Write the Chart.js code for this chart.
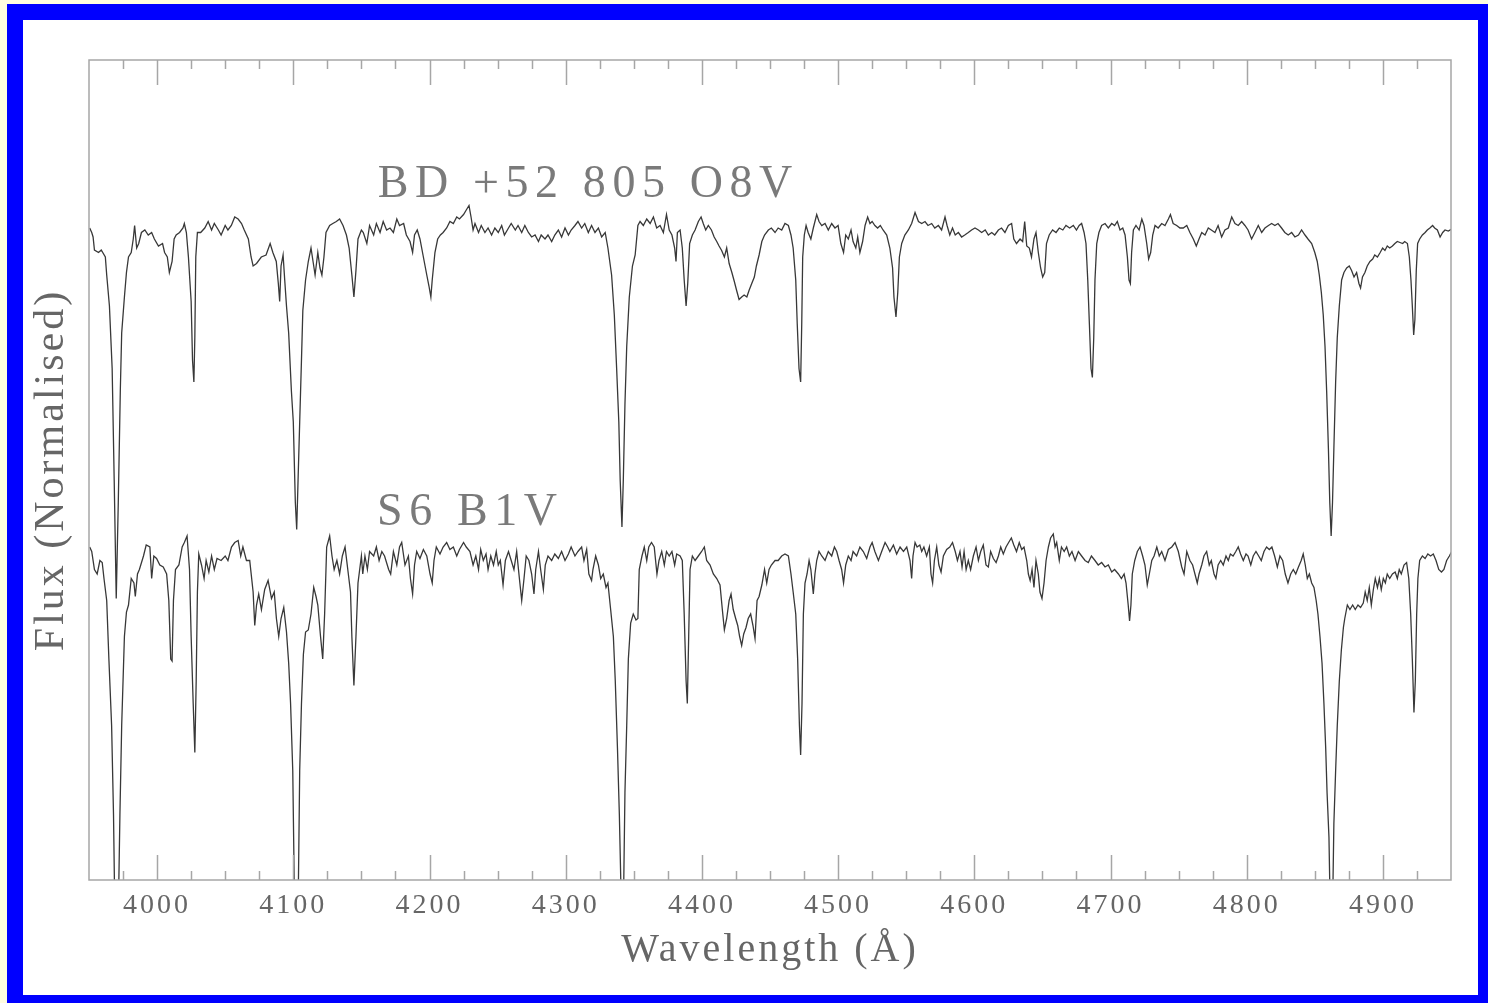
<!DOCTYPE html>
<html>
<head>
<meta charset="utf-8">
<title>BD +52 805 / S6 spectra</title>
<script src="https://cdn.jsdelivr.net/npm/chart.js@4.4.1/dist/chart.umd.min.js"></script>
<style>
    html, body {
        margin: 0;
        padding: 0;
        width: 1488px;
        height: 1003px;
        overflow: hidden;
        background: #fffde0;
    }
    .frame {
        position: absolute;
        left: 7px;
        top: 4px;
        width: 1487px;
        height: 1007px;
        box-sizing: border-box;
        border: 16px solid #0000ff;
        background: #ffffff;
    }
    #spectra {
        position: absolute;
        left: 0;
        top: 0;
    }
</style>
</head>
<body>
<div class="frame"></div>
<canvas id="spectra" width="1488" height="1003"></canvas>
<script>
// Normalised flux, [wavelength (A), flux]
const bdSpectrum = [
    [3950.5,1.004],[3952,0.995],[3953,0.986],[3954,0.96],[3957,0.955],[3959,0.96],[3962,0.946],[3963,0.91],
    [3965,0.848],[3967,0.723],[3968.5,0.5],[3970,0.263],[3971.5,0.455],[3973,0.68],[3974,0.794],[3976,0.866],
    [3977.5,0.915],[3979,0.946],[3981,0.955],[3982.5,0.982],[3983.5,1.009],[3985,0.964],[3986.5,0.973],[3988.5,0.995],
    [3991,1.0],[3993.5,0.99],[3996,0.995],[3998,0.982],[4001,0.968],[4004,0.973],[4005.5,0.955],[4007.5,0.946],
    [4009,0.915],[4011,0.937],[4012.5,0.982],[4014,0.99],[4016.5,0.995],[4019,1.004],[4020,1.013],[4021.5,0.995],
    [4023,0.946],[4025,0.857],[4026,0.74],[4027,0.696],[4027.7,0.785],[4028.4,0.946],[4029.6,0.995],[4032,0.995],
    [4035,1.004],[4037.5,1.017],[4040,1.0],[4042,1.013],[4045,1.0],[4047,0.99],[4050,1.009],[4052,1.0],
    [4054.5,1.009],[4057,1.026],[4059.5,1.022],[4062,1.013],[4064,1.0],[4067,0.982],[4069,0.946],[4070.5,0.928],
    [4073,0.933],[4076.5,0.946],[4080,0.95],[4083,0.973],[4085,0.955],[4087.5,0.937],[4089,0.893],[4090,0.857],
    [4091,0.928],[4092.5,0.95],[4093.7,0.9],[4095,0.848],[4096.6,0.794],[4098.6,0.678],[4100,0.616],[4101.5,0.455],
    [4102.5,0.401],[4103.5,0.5],[4104.7,0.616],[4106,0.74],[4107,0.839],[4109,0.9],[4111,0.937],[4113,0.964],
    [4114.5,0.937],[4116,0.91],[4118,0.955],[4119.6,0.924],[4121,0.91],[4122.5,0.946],[4124,0.995],[4126.7,1.009],
    [4129,1.013],[4131.6,1.017],[4134,1.022],[4136.5,1.009],[4139,0.99],[4141,0.964],[4143,0.91],[4144.5,0.866],
    [4146,0.919],[4147.5,0.982],[4150,1.0],[4151.4,0.995],[4154,0.973],[4156,1.009],[4159,0.99],[4161,1.013],
    [4163.7,0.995],[4166,1.017],[4168.5,1.0],[4171,1.004],[4173.5,0.995],[4176,1.022],[4178,1.009],[4181,1.013],
    [4183,0.99],[4185.7,0.977],[4187.6,0.955],[4189,0.99],[4191,1.0],[4193,0.982],[4195.5,0.946],[4198,0.91],
    [4199.6,0.888],[4201,0.866],[4202,0.9],[4204,0.955],[4206,0.982],[4208,0.99],[4210,0.995],[4212.6,1.004],
    [4215,1.017],[4217.5,1.013],[4220,1.026],[4222,1.022],[4225,1.031],[4227,1.04],[4229,1.049],[4230.5,1.026],
    [4232,1.0],[4233.4,1.013],[4236,0.995],[4238,1.009],[4240.7,0.995],[4243,1.004],[4245.6,0.99],[4248,1.004],
    [4250.5,0.995],[4253,1.009],[4255,0.99],[4258,1.004],[4260,1.013],[4263,1.0],[4265,1.009],[4267.7,0.995],
    [4270,1.009],[4272.6,0.995],[4275,0.986],[4277.5,0.99],[4280,0.977],[4282,0.99],[4284.8,0.982],[4287,0.99],
    [4289.7,0.977],[4292,0.99],[4294.6,1.0],[4297,0.986],[4299.5,1.004],[4302,0.99],[4304,1.0],[4306.8,1.009],
    [4309,1.017],[4311.7,1.004],[4314,1.013],[4316.6,0.995],[4319,1.009],[4321.5,0.995],[4324,1.004],[4326.4,0.986],
    [4329,0.995],[4331,0.964],[4333.7,0.91],[4335.7,0.83],[4337.4,0.723],[4339,0.616],[4340,0.5],[4341.3,0.406],
    [4342.3,0.5],[4343.5,0.651],[4344.8,0.767],[4346.7,0.866],[4349,0.928],[4351,0.95],[4353,1.009],[4354.6,1.017],
    [4357,1.009],[4359.5,1.022],[4362,1.013],[4364.4,1.026],[4366.8,1.004],[4369.3,1.009],[4371.7,0.995],[4374,1.031],
    [4376,1.0],[4378,0.99],[4380,0.964],[4381,0.937],[4382,0.995],[4384,1.0],[4385.6,0.964],[4387,0.9],
    [4388.4,0.848],[4389.6,0.893],[4391,0.973],[4393,0.99],[4395,1.0],[4397.4,1.017],[4399.4,1.026],[4401,1.013],
    [4402.8,1.0],[4404.7,1.009],[4407,1.0],[4409,0.986],[4410.9,0.977],[4412.6,0.968],[4414.5,0.959],[4416.5,0.946],
    [4418.2,0.964],[4420,0.933],[4422,0.915],[4423.8,0.897],[4425.5,0.879],[4427.3,0.861],[4429.2,0.866],[4431,0.87],
    [4433,0.866],[4434.6,0.879],[4436.6,0.893],[4438.5,0.906],[4440,0.928],[4442,0.95],[4444,0.977],[4446,0.99],
    [4448.8,1.0],[4451,1.004],[4453.7,0.995],[4456,1.004],[4458.6,1.0],[4461,1.013],[4463.5,1.009],[4465.4,0.99],
    [4467,0.964],[4468.9,0.9],[4470,0.812],[4471.3,0.723],[4472.5,0.696],[4473.3,0.812],[4474,0.946],[4475.2,0.99],
    [4476.5,1.009],[4478,0.995],[4480,0.982],[4481.8,1.004],[4484.3,1.031],[4486,1.017],[4488,1.009],[4490.4,1.013],
    [4492.8,1.0],[4495.3,1.013],[4497.7,1.004],[4500,1.009],[4502,0.973],[4504,0.955],[4505.6,0.99],[4507.5,0.982],
    [4509.5,1.0],[4511,0.977],[4513,0.964],[4514.4,0.986],[4516,0.955],[4518,0.977],[4519.8,1.009],[4521.7,1.026],
    [4523.4,1.013],[4525,1.017],[4527,1.009],[4529,1.004],[4531,1.009],[4533,1.0],[4535.7,0.99],[4538,0.964],
    [4540,0.924],[4541,0.866],[4542.5,0.826],[4543.8,0.875],[4545,0.946],[4546.7,0.973],[4549,0.99],[4551.6,1.0],
    [4554,1.013],[4556.5,1.035],[4559,1.017],[4561.4,1.013],[4563.8,1.017],[4566,1.009],[4568.7,1.013],[4571,1.004],
    [4573.6,1.009],[4576,1.0],[4578.5,1.026],[4580,1.009],[4582,0.99],[4584,1.004],[4586,0.99],[4588.3,0.995],
    [4590.7,0.986],[4593,0.99],[4595.6,0.995],[4598,1.0],[4600.5,1.004],[4603,1.0],[4605.4,0.995],[4608,1.0],
    [4610.3,0.99],[4612.8,0.995],[4615,0.99],[4617.7,1.0],[4620,1.004],[4622.5,0.995],[4625,1.009],[4627.4,1.013],
    [4629,0.982],[4631,0.973],[4633.6,0.982],[4635.5,0.977],[4637,1.017],[4638.5,0.968],[4640.4,0.964],[4642,0.946],
    [4643.8,0.982],[4645.3,0.995],[4647,0.955],[4648.7,0.924],[4650.2,0.906],[4651.7,0.915],[4653,0.973],[4655,0.99],
    [4657.5,1.0],[4660,0.995],[4662.4,1.004],[4665,1.0],[4667.3,1.009],[4670,1.004],[4672.7,1.009],[4675,1.0],
    [4677,1.009],[4678.8,1.013],[4680.6,0.995],[4682,0.973],[4683.3,0.9],[4684.5,0.812],[4685.7,0.723],[4686.7,0.705],
    [4687.7,0.785],[4688.6,0.9],[4689.9,0.973],[4691.5,0.995],[4693.5,1.009],[4696,1.013],[4698.4,1.004],[4700.9,1.013],
    [4703,1.009],[4705,1.017],[4707,1.0],[4709,1.004],[4710.7,0.99],[4712.4,0.946],[4713.6,0.9],[4714.6,0.893],
    [4715.5,0.955],[4716.8,1.0],[4718.7,1.009],[4721,1.0],[4723,1.022],[4724.6,1.009],[4726.6,0.973],[4728,0.942],
    [4729.5,0.955],[4731,0.99],[4732.7,1.009],[4735,1.004],[4737.6,1.013],[4740,1.009],[4742.5,1.022],[4744,1.031],
    [4746,1.013],[4748.6,1.009],[4751,1.004],[4753.4,1.004],[4756,1.009],[4758.3,0.995],[4760.8,0.982],[4763,0.968],
    [4765,0.982],[4767,0.995],[4769.4,0.99],[4771.8,1.004],[4774,1.0],[4776.7,0.995],[4779,1.009],[4781.6,0.986],
    [4784,1.0],[4786.5,1.004],[4789,1.026],[4791.4,1.013],[4793.8,1.009],[4796.3,1.017],[4798.7,1.009],[4801,1.0],
    [4803.6,0.982],[4806,0.995],[4808.5,1.009],[4811,0.995],[4813.4,1.004],[4816,1.009],[4818.3,1.013],[4820.7,1.009],
    [4823,1.013],[4825.6,1.004],[4828,0.995],[4830.5,0.99],[4833,0.995],[4835.4,0.986],[4838,0.99],[4840.3,1.0],
    [4842.8,0.99],[4845,0.982],[4847.7,0.973],[4850,0.955],[4851.8,0.937],[4853.3,0.91],[4854.8,0.875],[4856.2,0.83],
    [4857.5,0.767],[4858.7,0.678],[4860,0.562],[4861,0.455],[4862,0.388],[4863,0.455],[4864,0.562],[4865.3,0.696],
    [4866.5,0.785],[4868,0.848],[4869.7,0.9],[4871.4,0.915],[4873.4,0.924],[4875.3,0.928],[4877,0.919],[4878.8,0.906],
    [4880.7,0.915],[4882.4,0.893],[4883.6,0.884],[4885,0.906],[4886.8,0.915],[4888.5,0.928],[4890.5,0.937],[4892.5,0.942],
    [4894,0.95],[4896,0.946],[4898,0.955],[4899.8,0.964],[4901.5,0.959],[4903.2,0.968],[4905,0.964],[4907,0.968],
    [4908.8,0.973],[4910.6,0.977],[4912.5,0.975],[4914.5,0.973],[4916,0.977],[4918,0.973],[4919.4,0.946],[4920.6,0.9],
    [4921.6,0.848],[4922.6,0.79],[4923.5,0.821],[4924.5,0.919],[4925.5,0.973],[4927,0.982],[4929,0.99],[4931,0.995],
    [4932.6,1.0],[4934.5,1.004],[4936.5,1.009],[4938,1.004],[4940,1.0],[4942,0.986],[4943.9,0.995],[4945.6,1.0],
    [4948,0.998],[4950.5,1.002]
];

const s6Spectrum = [
    [3950.5,1.016],[3952,1.007],[3954,0.971],[3956,0.962],[3958,0.989],[3959.7,0.985],[3961,0.953],[3963,0.909],
    [3964.6,0.792],[3966.6,0.659],[3968,0.48],[3969,0.28],[3971.5,0.28],[3972.7,0.48],[3974,0.659],[3976,0.837],
    [3977.5,0.886],[3979,0.9],[3981,0.953],[3983,0.944],[3984,0.917],[3985.6,0.962],[3987,0.971],[3990,0.998],
    [3992,1.02],[3994.7,1.016],[3996,0.953],[3997.6,0.998],[3999.6,0.993],[4002,0.98],[4004.5,0.976],[4007,0.962],
    [4008.6,0.909],[4010,0.792],[4011,0.788],[4012,0.909],[4013.5,0.971],[4016,0.98],[4018.4,1.016],[4020,1.025],
    [4022,1.038],[4023.8,0.971],[4025,0.837],[4026.5,0.703],[4027.7,0.605],[4028.7,0.748],[4029.6,0.926],[4030.6,1.002],
    [4032.6,0.98],[4034.5,0.953],[4036,0.989],[4038,0.966],[4040,0.998],[4042,0.971],[4044,0.993],[4047,0.989],
    [4050,0.998],[4052,0.989],[4054.6,1.016],[4057,1.025],[4059.5,1.029],[4061.4,0.998],[4063,1.016],[4065.6,0.989],
    [4068,0.989],[4070.5,0.926],[4071.7,0.859],[4073,0.9],[4074.6,0.922],[4076.6,0.891],[4079,0.931],[4081.5,0.949],
    [4084,0.913],[4086,0.926],[4087.6,0.873],[4089.3,0.837],[4091,0.873],[4093,0.895],[4095,0.846],[4096.6,0.784],
    [4098,0.703],[4099.6,0.569],[4101,0.28],[4103.5,0.28],[4104.7,0.569],[4106,0.703],[4107.4,0.801],[4109,0.846],
    [4111,0.85],[4113,0.882],[4115,0.935],[4116.7,0.917],[4118,0.9],[4120,0.837],[4121.6,0.792],[4123,0.882],
    [4124.5,1.016],[4126.7,1.038],[4128.4,0.998],[4130,0.971],[4132,0.989],[4134,0.962],[4136,0.998],[4138,1.016],
    [4140,0.971],[4142,0.926],[4143,0.837],[4144.5,0.739],[4146,0.837],[4147.5,0.944],[4150,0.998],[4151,0.962],
    [4152.6,0.998],[4154.4,0.971],[4156,1.007],[4159,0.998],[4161,1.016],[4163,0.989],[4165,1.007],[4167,0.998],
    [4170,0.971],[4171.5,0.962],[4173.5,1.007],[4176,0.98],[4178,1.016],[4179.6,1.025],[4182,0.98],[4184.5,0.998],
    [4186,0.953],[4187.6,0.922],[4189,0.98],[4190.6,1.007],[4193,0.993],[4195.5,1.011],[4198,0.998],[4200.4,0.962],
    [4202,0.944],[4203.3,0.989],[4205,1.016],[4207.7,1.002],[4210,1.016],[4212.6,1.025],[4215,1.011],[4217.5,1.016],
    [4220,0.998],[4222,1.011],[4225,1.025],[4227,1.016],[4229.7,1.007],[4232,0.98],[4234,0.998],[4236,0.971],
    [4237.6,1.011],[4239.5,0.989],[4241.5,1.002],[4243,0.971],[4245,0.998],[4247,0.98],[4249,1.007],[4250.5,0.98],
    [4252,0.989],[4254,0.94],[4255.7,0.989],[4258,1.007],[4260,0.989],[4262,0.971],[4264,1.007],[4266,0.953],
    [4267.7,0.909],[4269.4,0.953],[4271,0.998],[4273,0.989],[4275,0.962],[4276.7,0.922],[4278,0.971],[4280,1.007],
    [4281.6,0.971],[4283.6,0.931],[4285,0.98],[4287,0.998],[4289.7,0.989],[4292,1.002],[4294.6,0.993],[4297,1.007],
    [4299.5,0.989],[4302,1.002],[4304,1.016],[4306.8,0.998],[4309,1.007],[4311.7,1.016],[4313.4,0.989],[4315.4,1.011],
    [4317,0.962],[4319,0.949],[4320,0.971],[4322,0.998],[4324,0.98],[4325.7,0.953],[4327.6,0.962],[4329.6,0.935],
    [4331,0.944],[4333,0.891],[4335,0.837],[4336.4,0.748],[4338,0.614],[4339.4,0.48],[4341,0.28],[4342.3,0.28],
    [4343.5,0.525],[4344.8,0.659],[4346,0.792],[4347.7,0.864],[4349.6,0.882],[4351.6,0.87],[4353,0.873],[4354,0.971],
    [4356,0.998],[4357.7,1.016],[4359.5,0.989],[4361,1.016],[4363,1.025],[4365,1.016],[4367,0.962],[4368.5,0.989],
    [4370.5,1.007],[4372.4,0.98],[4374,1.007],[4376,0.998],[4378,1.007],[4380,0.98],[4381.5,1.002],[4384,0.998],
    [4385.6,0.989],[4387,0.882],[4388.4,0.748],[4389.3,0.703],[4390.3,0.837],[4391.3,0.971],[4393,0.998],[4395,0.989],
    [4397.4,0.998],[4399.8,1.007],[4401.8,1.016],[4403.5,0.989],[4406,0.98],[4408.4,0.962],[4410.9,0.953],[4413.3,0.94],
    [4415,0.891],[4416.5,0.85],[4418.2,0.873],[4420,0.909],[4421.4,0.922],[4423,0.891],[4424.8,0.873],[4426.3,0.859],
    [4427.7,0.837],[4429.2,0.819],[4430.7,0.842],[4432.4,0.855],[4434,0.873],[4435.8,0.882],[4437.5,0.859],[4439,0.833],
    [4440.5,0.909],[4442,0.917],[4444,0.94],[4446,0.971],[4447.6,0.944],[4449.3,0.971],[4451,0.98],[4453.7,0.989],
    [4456,0.989],[4458.6,0.998],[4461,1.002],[4463.5,0.998],[4465.4,0.962],[4467,0.926],[4468.9,0.882],[4470.3,0.792],
    [4471.6,0.659],[4472.5,0.6],[4473.5,0.703],[4474.5,0.882],[4475.7,0.944],[4477.2,0.962],[4478.7,0.989],[4480,0.971],
    [4481.8,0.922],[4483,0.962],[4484.3,0.989],[4486,1.007],[4488,0.998],[4490.4,0.989],[4492.8,1.007],[4495.3,0.998],
    [4497.3,1.016],[4499,1.007],[4500.7,0.989],[4502.6,0.971],[4504,0.944],[4505.6,0.98],[4507.5,0.998],[4509.5,0.989],
    [4511,1.007],[4513.6,0.998],[4516,1.016],[4518.5,1.007],[4521,0.993],[4523.4,1.016],[4525,1.025],[4527,1.007],
    [4529.6,0.989],[4532,1.007],[4534.5,1.025],[4536.4,1.016],[4538,1.007],[4540.6,1.02],[4543,1.002],[4545.5,1.016],
    [4548,1.007],[4550.4,1.016],[4552.8,0.989],[4554,0.953],[4555,0.998],[4556.5,1.025],[4558,1.016],[4560,1.02],
    [4561.4,1.007],[4563,1.016],[4565,0.998],[4567,1.016],[4568.2,0.962],[4569.4,0.944],[4570.7,0.989],[4572.4,1.016],
    [4574,0.98],[4575.6,0.966],[4577.3,0.998],[4579.7,1.011],[4582,1.016],[4584,1.025],[4586,1.007],[4587.6,0.989],
    [4589.5,1.007],[4591,0.976],[4592.5,1.007],[4594,0.971],[4595.6,0.989],[4597.3,0.971],[4599.3,0.998],[4601.3,1.016],
    [4603,0.989],[4604.7,1.007],[4606.6,1.02],[4608.6,0.98],[4610.3,0.976],[4612,1.007],[4614,0.993],[4616,0.985],
    [4617.7,0.998],[4619.4,1.016],[4621.3,1.002],[4623.3,1.016],[4625.2,1.025],[4627.2,1.034],[4629,1.02],[4631,1.007],
    [4633,1.025],[4634.8,1.011],[4636.5,1.016],[4638.5,0.989],[4639.7,0.962],[4641,0.949],[4642.4,0.971],[4643.8,0.935],
    [4645.3,0.989],[4647,0.962],[4648.2,0.926],[4649.7,0.913],[4651.2,0.944],[4652.7,0.989],[4654.4,1.016],[4656,1.034],
    [4658,1.042],[4659.3,1.016],[4660.5,1.025],[4662.4,0.989],[4664,1.016],[4666,1.007],[4667.8,1.016],[4669.8,0.998],
    [4671.7,1.007],[4674,0.989],[4676.4,1.007],[4678.8,0.998],[4681.3,0.989],[4683.7,0.985],[4686,0.998],[4688.6,0.989],
    [4691,0.98],[4693.5,0.985],[4696,0.976],[4698.4,0.98],[4700.9,0.966],[4703,0.971],[4705.8,0.962],[4708,0.953],
    [4710,0.962],[4711.4,0.944],[4713,0.9],[4714,0.868],[4715,0.9],[4716,0.962],[4717.8,0.989],[4719.7,1.007],
    [4721.7,1.016],[4723.6,0.998],[4725.3,0.98],[4727,0.94],[4728.5,0.962],[4730.3,0.989],[4732,0.998],[4734,1.016],
    [4735.8,0.998],[4737.6,1.007],[4740,0.989],[4742.5,1.011],[4745,1.016],[4747.4,1.025],[4749.8,1.007],[4752.3,0.976],
    [4754,0.962],[4756,1.007],[4758.3,0.989],[4760.3,0.98],[4762,0.962],[4763.7,0.944],[4765,0.962],[4767,0.98],
    [4768.6,0.998],[4770.6,1.007],[4772.5,0.98],[4774,0.989],[4776,0.962],[4777.4,0.953],[4779,0.98],[4780.9,0.989],
    [4782.8,0.98],[4784.8,0.998],[4786.5,0.989],[4788,1.002],[4790,0.998],[4792,1.007],[4793.8,1.016],[4795.5,1.002],
    [4797.5,0.989],[4799.5,1.002],[4801,0.998],[4803,0.98],[4804.8,0.998],[4806.8,1.007],[4808.8,0.998],[4810.7,0.989],
    [4812.7,1.007],[4814.6,1.016],[4816.6,1.011],[4818.5,1.016],[4820.5,0.998],[4822.5,0.976],[4824.4,0.998],[4826.4,0.989],
    [4828.3,0.962],[4830.3,0.944],[4832.3,0.962],[4834.2,0.971],[4836,0.962],[4838,0.976],[4840,0.989],[4841.5,1.002],
    [4843,0.98],[4844.5,0.953],[4846,0.962],[4847.7,0.944],[4849.4,0.935],[4851,0.909],[4852.3,0.882],[4853.8,0.837],
    [4855.3,0.784],[4856.7,0.703],[4858,0.614],[4859,0.525],[4860.4,0.435],[4861.4,0.28],[4863,0.28],[4864,0.462],
    [4865.3,0.569],[4866.5,0.659],[4868,0.748],[4869.5,0.81],[4871,0.855],[4872,0.873],[4873.9,0.9],[4875.8,0.891],
    [4877.8,0.9],[4879.7,0.891],[4881.7,0.9],[4883.6,0.895],[4885.6,0.904],[4887,0.926],[4888.5,0.909],[4890,0.935],
    [4891.5,0.9],[4893,0.931],[4894.4,0.953],[4896,0.935],[4897.4,0.953],[4898.8,0.931],[4900.3,0.953],[4901.8,0.944],
    [4903.2,0.962],[4905,0.953],[4907,0.962],[4909,0.966],[4910.6,0.953],[4912,0.971],[4913.5,0.962],[4915.5,0.98],
    [4917.4,0.985],[4919,0.953],[4920.4,0.882],[4921.6,0.792],[4922.8,0.685],[4923.8,0.748],[4924.8,0.882],[4925.7,0.953],
    [4927,0.989],[4929,0.998],[4931,0.993],[4933,1.002],[4935,0.998],[4937,1.002],[4939,0.989],[4941,0.971],
    [4943,0.966],[4944.8,0.971],[4946.8,0.989],[4948.8,0.998],[4950.5,1.007]
];

const starNames = ['BD +52 805 O8V', 'S6 B1V'];
const fluxOffsets = [0.30, -0.35];   // vertical shift of each spectrum
const tickValues = [4000, 4100, 4200, 4300, 4400, 4500, 4600, 4700, 4800, 4900];

const FRAME_GREY = '#a6a6a6';
const TEXT_GREY = '#666666';
const FONT = '"Liberation Serif", "Times New Roman", serif';

// PGPLOT-style box: frame, inward ticks, star names
const pgplotBox = {
    id: 'pgplotBox',
    beforeDraw(chart) {
        chart.ctx.letterSpacing = '3px';
    },
    afterDraw(chart) {
        const { ctx, chartArea, scales } = chart;
        const { left, right, top, bottom } = chartArea;
        ctx.save();
        ctx.strokeStyle = FRAME_GREY;
        ctx.lineWidth = 1.5;
        ctx.strokeRect(left, top, right - left, bottom - top);

        ctx.beginPath();
        for (let w = 3975; w < scales.x.max; w += 25) {
            const px = Math.round(scales.x.getPixelForValue(w)) + 0.5;
            const len = w % 100 === 0 ? 25 : 9;
            ctx.moveTo(px, top);
            ctx.lineTo(px, top + len);
            ctx.moveTo(px, bottom);
            ctx.lineTo(px, bottom - len);
        }
        ctx.stroke();

        // star names sit just above their continuum
        const nameAnchors = [[4162, 1.366], [4161.5, 0.71]];
        ctx.font = '46px ' + FONT;
        ctx.letterSpacing = '6.6px';
        ctx.fillStyle = '#7a7a7a';
        ctx.textAlign = 'left';
        ctx.textBaseline = 'alphabetic';
        starNames.forEach((name, i) => {
            const [w, f] = nameAnchors[i];
            ctx.fillText(name, scales.x.getPixelForValue(w), scales.y.getPixelForValue(f));
        });
        ctx.restore();
        ctx.letterSpacing = '0px';
    }
};

function toPoints(spectrum, offset) {
    return spectrum.map(([w, f]) => ({ x: w, y: f + offset }));
}

const spectra = [bdSpectrum, s6Spectrum];

const chart = new Chart(document.getElementById('spectra').getContext('2d'), {
    type: 'line',
    data: {
        datasets: spectra.map((spec, i) => ({
            label: starNames[i],
            data: toPoints(spec, fluxOffsets[i]),
            borderColor: '#383838',
            borderWidth: 1.3,
            pointRadius: 0,
            tension: 0,
            fill: false
        }))
    },
    options: {
        responsive: false,
        animation: false,
        layout: {
            padding: { top: 60, right: 37, left: 0, bottom: 0 }
        },
        scales: {
            x: {
                type: 'linear',
                min: 3950,
                max: 4950,
                afterBuildTicks: (scale) => {
                    scale.ticks = tickValues.map(v => ({ value: v }));
                },
                afterFit: (scale) => {
                    scale.height = 123;
                },
                grid: { display: false },
                border: { display: false },
                ticks: {
                    color: TEXT_GREY,
                    font: { family: FONT, size: 28 },
                    padding: 1,
                    maxRotation: 0,
                    autoSkip: false,
                    callback: (value) => String(value)
                },
                title: {
                    display: true,
                    text: 'Wavelength (Å)',
                    color: TEXT_GREY,
                    font: { family: FONT, size: 40 },
                    padding: { top: 0, bottom: 29 }
                }
            },
            y: {
                min: 0,
                max: 1.64,
                afterFit: (scale) => {
                    scale.width = 89;
                },
                grid: { display: false },
                border: { display: false },
                ticks: { display: false },
                title: {
                    display: true,
                    text: 'Flux (Normalised)',
                    color: TEXT_GREY,
                    font: { family: FONT, size: 42 },
                    padding: { top: 27, bottom: 0 }
                }
            }
        },
        plugins: {
            legend: { display: false },
            tooltip: { enabled: false }
        }
    },
    plugins: [pgplotBox]
});
</script>
</body>
</html>
